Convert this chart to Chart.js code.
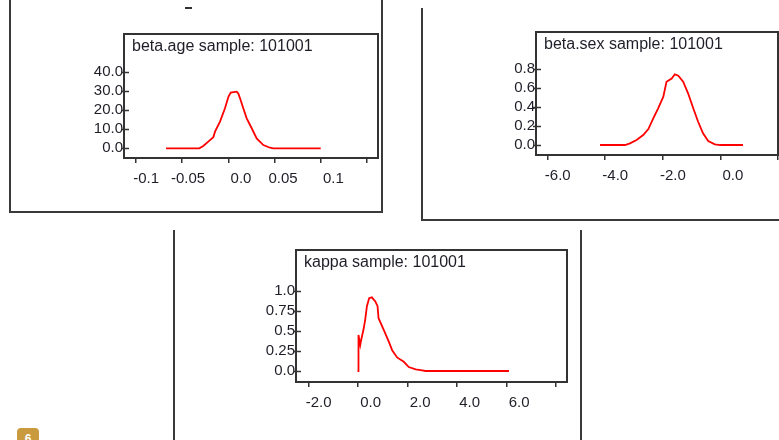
<!DOCTYPE html>
<html><head><meta charset="utf-8">
<script src="https://cdn.jsdelivr.net/npm/chart.js@4.4.0/dist/chart.umd.min.js"></script>
<style>
html,body{margin:0;padding:0;background:#fff;width:779px;height:440px;overflow:hidden;position:relative;font-family:"Liberation Sans",Arial,sans-serif;}
.frame{position:absolute;box-sizing:border-box;border:0 solid #3a3a3a;}
.wrap{position:absolute;}
#dash{position:absolute;left:185px;top:7px;width:7px;height:2px;background:#333;}
#badge{position:absolute;left:17px;top:428px;width:22px;height:20px;background:#c99a3e;border-radius:4px;color:#fff;font:bold 12px "Liberation Sans",Arial,sans-serif;text-align:center;line-height:22px;}
</style></head><body>
<div class="frame" style="left:9px;top:-10px;width:374px;height:223px;border-left-width:2px;border-right-width:2px;border-bottom-width:2px;"></div>
<div class="frame" style="left:421px;top:8px;width:400px;height:213px;border-left-width:2px;border-bottom-width:2px;"></div>
<div class="frame" style="left:173px;top:230px;width:409px;height:230px;border-left-width:2px;border-right-width:2px;"></div>
<div id="dash"></div>
<div id="badge">6</div>
<div class="wrap" style="left:64px;top:30px;"><canvas id="c1" width="318" height="164"></canvas></div>
<div class="wrap" style="left:476px;top:28px;"><canvas id="c2" width="306" height="163"></canvas></div>
<div class="wrap" style="left:236px;top:246px;"><canvas id="c3" width="335" height="172"></canvas></div>
<script>
// ---- beta.age ----
const ageTitle = "beta.age sample: 101001";
const ageX = [-0.0675, -0.0315, -0.0272, -0.0218, -0.0163, -0.0145, -0.0091, -0.0037, 0.0, 0.0025, 0.0090, 0.0107, 0.0126, 0.0161, 0.0198, 0.0252, 0.0306, 0.0378, 0.0450, 0.0486, 0.0999];
const ageY = [0, 0, 1.2, 3.5, 5.8, 8.7, 14.0, 21.0, 27.0, 29.2, 29.7, 28.8, 26.2, 21.0, 15.7, 10.5, 5.2, 1.7, 0.3, 0, 0];
const ageXTicks = [-0.1, -0.05, 0.0, 0.05, 0.1, 0.15];
const ageXLabels = ["-0.1", "-0.05", "0.0", "0.05", "0.1", ""];
const ageYTicks = [0, 10, 20, 30, 40];
const ageYLabels = ["0.0", "10.0", "20.0", "30.0", "40.0"];

// ---- beta.sex ----
const sexTitle = "beta.sex sample: 101001";
const sexX = [-4.18, -3.31, -3.14, -2.91, -2.68, -2.50, -2.33, -2.16, -1.98, -1.87, -1.69, -1.58, -1.46, -1.29, -1.12, -0.94, -0.77, -0.60, -0.42, -0.19, 0.0, 0.79];
const sexY = [0, 0, 0.018, 0.053, 0.105, 0.168, 0.28, 0.386, 0.508, 0.666, 0.70, 0.744, 0.73, 0.666, 0.544, 0.386, 0.245, 0.123, 0.042, 0.007, 0, 0];
const sexXTicks = [-6, -4, -2, 0, 2];
const sexXLabels = ["-6.0", "-4.0", "-2.0", "0.0", ""];
const sexYTicks = [0, 0.2, 0.4, 0.6, 0.8];
const sexYLabels = ["0.0", "0.2", "0.4", "0.6", "0.8"];

// ---- kappa ----
const kappaTitle = "kappa sample: 101001";
const kappaX = [-0.02, 0.02, 0.02, 0.09, 0.13, 0.22, 0.29, 0.36, 0.45, 0.56, 0.70, 0.79, 0.83, 1.04, 1.24, 1.38, 1.58, 1.85, 2.05, 2.33, 2.53, 2.73, 6.1];
const kappaY = [0, 0, 0.45, 0.325, 0.39, 0.515, 0.64, 0.81, 0.91, 0.92, 0.87, 0.81, 0.66, 0.515, 0.37, 0.26, 0.17, 0.115, 0.05, 0.02, 0.01, 0, 0];
const kappaXTicks = [-2, 0, 2, 4, 6, 8];
const kappaXLabels = ["-2.0", "0.0", "2.0", "4.0", "6.0", ""];
const kappaYTicks = [0, 0.25, 0.5, 0.75, 1.0];
const kappaYLabels = ["0.0", "0.25", "0.5", "0.75", "1.0"];

const TEXT = '#1e1e28';
const LINE = '#333333';
const FONT = {family: '"Liberation Sans", Arial, sans-serif', size: 15};

const boxPlugin = {
  id: 'boxFrame',
  afterDraw(chart, args, opts) {
    const {ctx, chartArea: a} = chart;
    const ys = chart.scales.y;
    ctx.save();
    ctx.strokeStyle = LINE;
    ctx.lineWidth = 2;
    ctx.strokeRect(a.left, a.top, a.right - a.left, a.bottom - a.top);
    // y tick marks crossing the left edge of the box
    ctx.lineWidth = 1.5;
    ys.ticks.forEach(t => {
      const py = Math.round(ys.getPixelForValue(t.value)) + 0.5;
      ctx.beginPath(); ctx.moveTo(a.left - 3, py); ctx.lineTo(a.left + 5, py); ctx.stroke();
    });
    ctx.fillStyle = TEXT;
    ctx.font = '16px "Liberation Sans", Arial, sans-serif';
    ctx.textAlign = 'left';
    ctx.textBaseline = 'middle';
    ctx.fillText(opts.text, a.left + 8, a.top + 12.5);
    ctx.restore();
  }
};

function noPad(s) { s.paddingTop = 0; s.paddingBottom = 0; s.paddingLeft = 0; s.paddingRight = 0; }

function makePanel(id, title, xs, ys, xMin, xMax, yMin, yMax, xTicks, xLabels, yTicks, yLabels) {
  const pts = xs.map((x, i) => ({x: x, y: ys[i]}));
  new Chart(document.getElementById(id), {
    type: 'line',
    data: {datasets: [{data: pts, borderColor: '#ff0000', borderWidth: 1.8, pointRadius: 0, tension: 0, fill: false}]},
    options: {
      responsive: false, animation: false, devicePixelRatio: 1,
      layout: {padding: {left: 0, top: 4, right: 4, bottom: 0}},
      plugins: {legend: {display: false}, tooltip: {enabled: false}, title: {display: false}, boxFrame: {text: title}},
      scales: {
        x: {
          type: 'linear', min: xMin, max: xMax,
          afterBuildTicks: s => { s.ticks = xTicks.map(v => ({value: v})); },
          afterFit: s => { s.height = 36; noPad(s); },
          border: {display: false},
          grid: {display: true, drawOnChartArea: false, drawTicks: true, tickLength: 5, color: LINE, lineWidth: 1.5},
          ticks: {align: 'end', labelOffset: 23, padding: 7, autoSkip: false, maxRotation: 0, font: FONT, color: TEXT,
                  callback: (v, i) => xLabels[i]}
        },
        y: {
          type: 'linear', min: yMin, max: yMax,
          afterBuildTicks: s => { s.ticks = yTicks.map(v => ({value: v})); },
          afterFit: s => { s.width = 60; noPad(s); },
          border: {display: false},
          grid: {display: false, drawOnChartArea: false, drawTicks: false},
          ticks: {padding: 1, autoSkip: false, font: FONT, color: TEXT, callback: (v, i) => yLabels[i]}
        }
      }
    },
    plugins: [boxPlugin]
  });
}

makePanel('c1', ageTitle, ageX, ageY, -0.11299, 0.1619, -5.09, 59.94, ageXTicks, ageXLabels, ageYTicks, ageYLabels);
makePanel('c2', sexTitle, sexX, sexY, -6.406, 2.006, -0.105, 1.189, sexXTicks, sexXLabels, sexYTicks, sexYLabels);
makePanel('c3', kappaTitle, kappaX, kappaY, -2.505, 8.444, -0.1375, 1.5125, kappaXTicks, kappaXLabels, kappaYTicks, kappaYLabels);
</script>
</body></html>
